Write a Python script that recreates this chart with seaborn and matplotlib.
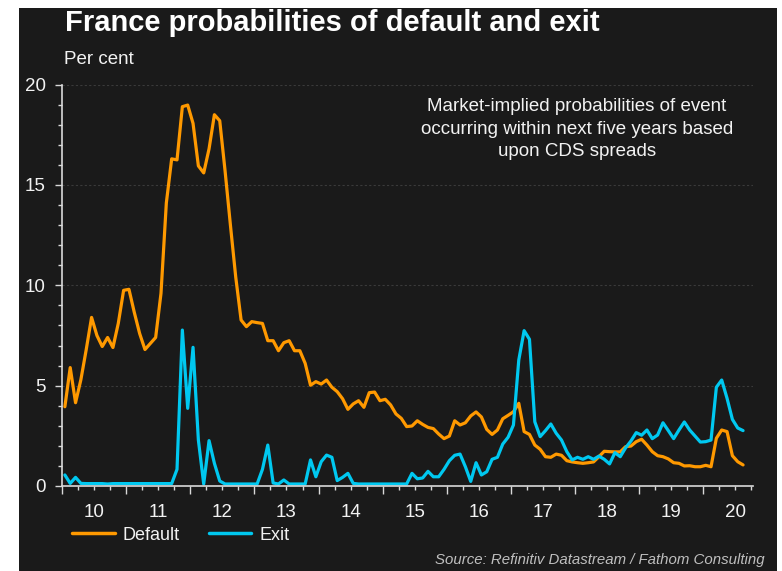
import numpy as np
import pandas as pd
import matplotlib
matplotlib.use("Agg")
import matplotlib.pyplot as plt
import seaborn as sns
from matplotlib.patches import Rectangle
from matplotlib.lines import Line2D
from matplotlib.ticker import MultipleLocator, FixedLocator, NullFormatter

# Monthly observations, Jan 2010 - Aug 2020
default_pct = [
    3.95, 5.9, 4.15, 5.3, 6.8, 8.4, 7.5, 6.95, 7.4, 6.9, 8.1, 9.75,
    9.8, 8.65, 7.6, 6.8, 7.1, 7.4, 9.6, 14.1, 16.3, 16.25, 18.9, 18.98,
    18.07, 15.95, 15.6, 16.8, 18.5, 18.2, 15.7, 13.0, 10.4, 8.27, 7.94, 8.19,
    8.14, 8.1, 7.24, 7.24, 6.74, 7.14, 7.24, 6.74, 6.74, 6.11, 5.02, 5.2,
    5.08, 5.28, 4.92, 4.7, 4.35, 3.82, 4.09, 4.25, 3.92, 4.65, 4.68, 4.25,
    4.32, 4.04, 3.59, 3.37, 2.96, 2.99, 3.25, 3.07, 2.92, 2.86, 2.59, 2.36,
    2.49, 3.25, 3.04, 3.15, 3.49, 3.69, 3.44, 2.82, 2.57, 2.79, 3.35, 3.52,
    3.70, 4.12, 2.71, 2.57, 2.04, 1.83, 1.46, 1.43, 1.59, 1.53, 1.26, 1.20,
    1.16, 1.13, 1.16, 1.20, 1.46, 1.73, 1.71, 1.70, 1.70, 1.96, 1.99, 2.21,
    2.33, 2.04, 1.71, 1.51, 1.46, 1.35, 1.16, 1.13, 1.00, 1.01, 0.96, 0.96,
    1.03, 0.96, 2.38, 2.79, 2.71, 1.51, 1.21, 1.05,
]
exit_pct = [
    0.55, 0.13, 0.43, 0.13, 0.12, 0.12, 0.12, 0.12, 0.1, 0.12, 0.12, 0.12,
    0.12, 0.12, 0.12, 0.12, 0.12, 0.12, 0.12, 0.12, 0.12, 0.83, 7.77, 3.87,
    6.91, 2.29, 0.1, 2.26, 1.13, 0.25, 0.1, 0.1, 0.1, 0.1, 0.1, 0.1,
    0.1, 0.83, 2.04, 0.15, 0.1, 0.3, 0.1, 0.1, 0.1, 0.1, 1.3, 0.46,
    1.21, 1.54, 1.43, 0.27, 0.43, 0.63, 0.13, 0.1, 0.1, 0.1, 0.1, 0.1,
    0.1, 0.1, 0.1, 0.1, 0.1, 0.63, 0.36, 0.40, 0.73, 0.46, 0.46, 0.83,
    1.26, 1.53, 1.59, 0.96, 0.23, 1.16, 0.55, 0.71, 1.33, 1.43, 2.09, 2.43,
    3.04, 6.28, 7.74, 7.31, 3.2, 2.46, 2.76, 3.09, 2.63, 2.29, 1.71, 1.30,
    1.43, 1.33, 1.46, 1.33, 1.49, 1.33, 1.10, 1.66, 1.46, 1.90, 2.24, 2.66,
    2.53, 2.79, 2.36, 2.54, 3.15, 2.76, 2.36, 2.79, 3.19, 2.79, 2.49, 2.19,
    2.21, 2.29, 4.92, 5.28, 4.37, 3.32, 2.89, 2.76,
]
year_labels = ["10", "11", "12", "13", "14", "15", "16", "17", "18", "19", "20"]
series_names = ["Default", "Exit"]

n = len(default_pct)
t = 2010 + (np.arange(n) + 0.5) / 12.0
df = pd.DataFrame({
    "t": np.concatenate([t, t]),
    "value": default_pct + exit_pct,
    "series": [series_names[0]] * n + [series_names[1]] * n,
})

BG = "#1a1a1a"
FG = "#f2f2f2"
ORANGE = "#ff9900"
CYAN = "#00c8f0"

sns.set_theme(style="dark")
plt.rcParams["font.family"] = ["Liberation Sans", "DejaVu Sans"]

fig = plt.figure(figsize=(7.82, 5.71), dpi=100, facecolor="white")
fig.patches.append(Rectangle((19 / 782, 0), (777 - 19) / 782, 1 - 8 / 571,
                             transform=fig.transFigure, facecolor=BG,
                             edgecolor="none", zorder=-10))

ax = fig.add_axes([62.2 / 782, 85 / 571, (753 - 62.2) / 782, (486 - 84.6) / 571])
ax.set_facecolor(BG)

sns.lineplot(data=df, x="t", y="value", hue="series",
             palette={"Default": ORANGE, "Exit": CYAN},
             linewidth=2.3, ax=ax, legend=False)

ax.set_xlim(2010, 2020.78)
ax.set_ylim(0, 20)
ax.set_xlabel("")
ax.set_ylabel("")

for s in ["top", "right"]:
    ax.spines[s].set_visible(False)
for s in ["left", "bottom"]:
    ax.spines[s].set_visible(True)
    ax.spines[s].set_color("#d9d9d9")
    ax.spines[s].set_linewidth(1.2)

ax.grid(False)
for yv in [5, 10, 15, 20]:
    ax.axhline(yv, color="#3a3a3a", linewidth=0.8, linestyle=(0, (2, 2)), zorder=0)

ax.yaxis.set_major_locator(MultipleLocator(5))
ax.yaxis.set_minor_locator(MultipleLocator(1))
ax.tick_params(axis="y", which="major", direction="out", length=5, width=1,
               color="#d9d9d9", labelcolor=FG, labelsize=13.5, pad=7, left=True)
ax.tick_params(axis="y", which="minor", direction="out", length=3, width=1,
               color="#d9d9d9", left=True)

years = np.arange(2010, 2021)
ax.xaxis.set_major_locator(FixedLocator(years))
ax.xaxis.set_major_formatter(NullFormatter())
ax.xaxis.set_minor_locator(FixedLocator(np.arange(2010, 2020.8, 0.25)))
ax.tick_params(axis="x", which="major", direction="out", length=6, width=1,
               color="#d9d9d9", bottom=True)
ax.tick_params(axis="x", which="minor", direction="out", length=3, width=1,
               color="#d9d9d9", bottom=True)
for y, lab in zip(years, year_labels):
    ax.text(y + 0.5, -0.045, lab, transform=ax.get_xaxis_transform(),
            ha="center", va="top", color=FG, fontsize=13.5)

fig.text(65 / 782, 1 - 23 / 571, "France probabilities of default and exit",
         color="white", fontsize=21, fontweight="bold", ha="left", va="center")
fig.text(64 / 782, 1 - 60 / 571, "Per cent", color=FG, fontsize=13.5,
         ha="left", va="center")

fig.text(577 / 782, 1 - 129 / 571,
         "Market-implied probabilities of event\noccurring within next five years based\nupon CDS spreads",
         color=FG, fontsize=13.5, ha="center", va="center", linespacing=1.4)

handles = [Line2D([0], [0], color=ORANGE, lw=2.5),
           Line2D([0], [0], color=CYAN, lw=2.5)]
fig.legend(handles, series_names, loc="center left",
           bbox_to_anchor=(56 / 782, 1 - 535 / 571), ncol=2, frameon=False,
           fontsize=13, labelcolor=FG, handlelength=2.35, columnspacing=1.6,
           handletextpad=0.45)

fig.text(765 / 782, 1 - 560 / 571, "Source: Refinitiv Datastream / Fathom Consulting",
         color="#bfbfbf", fontsize=10.8, style="italic", ha="right", va="center")

fig.savefig("out.png", dpi=100, facecolor="white")
